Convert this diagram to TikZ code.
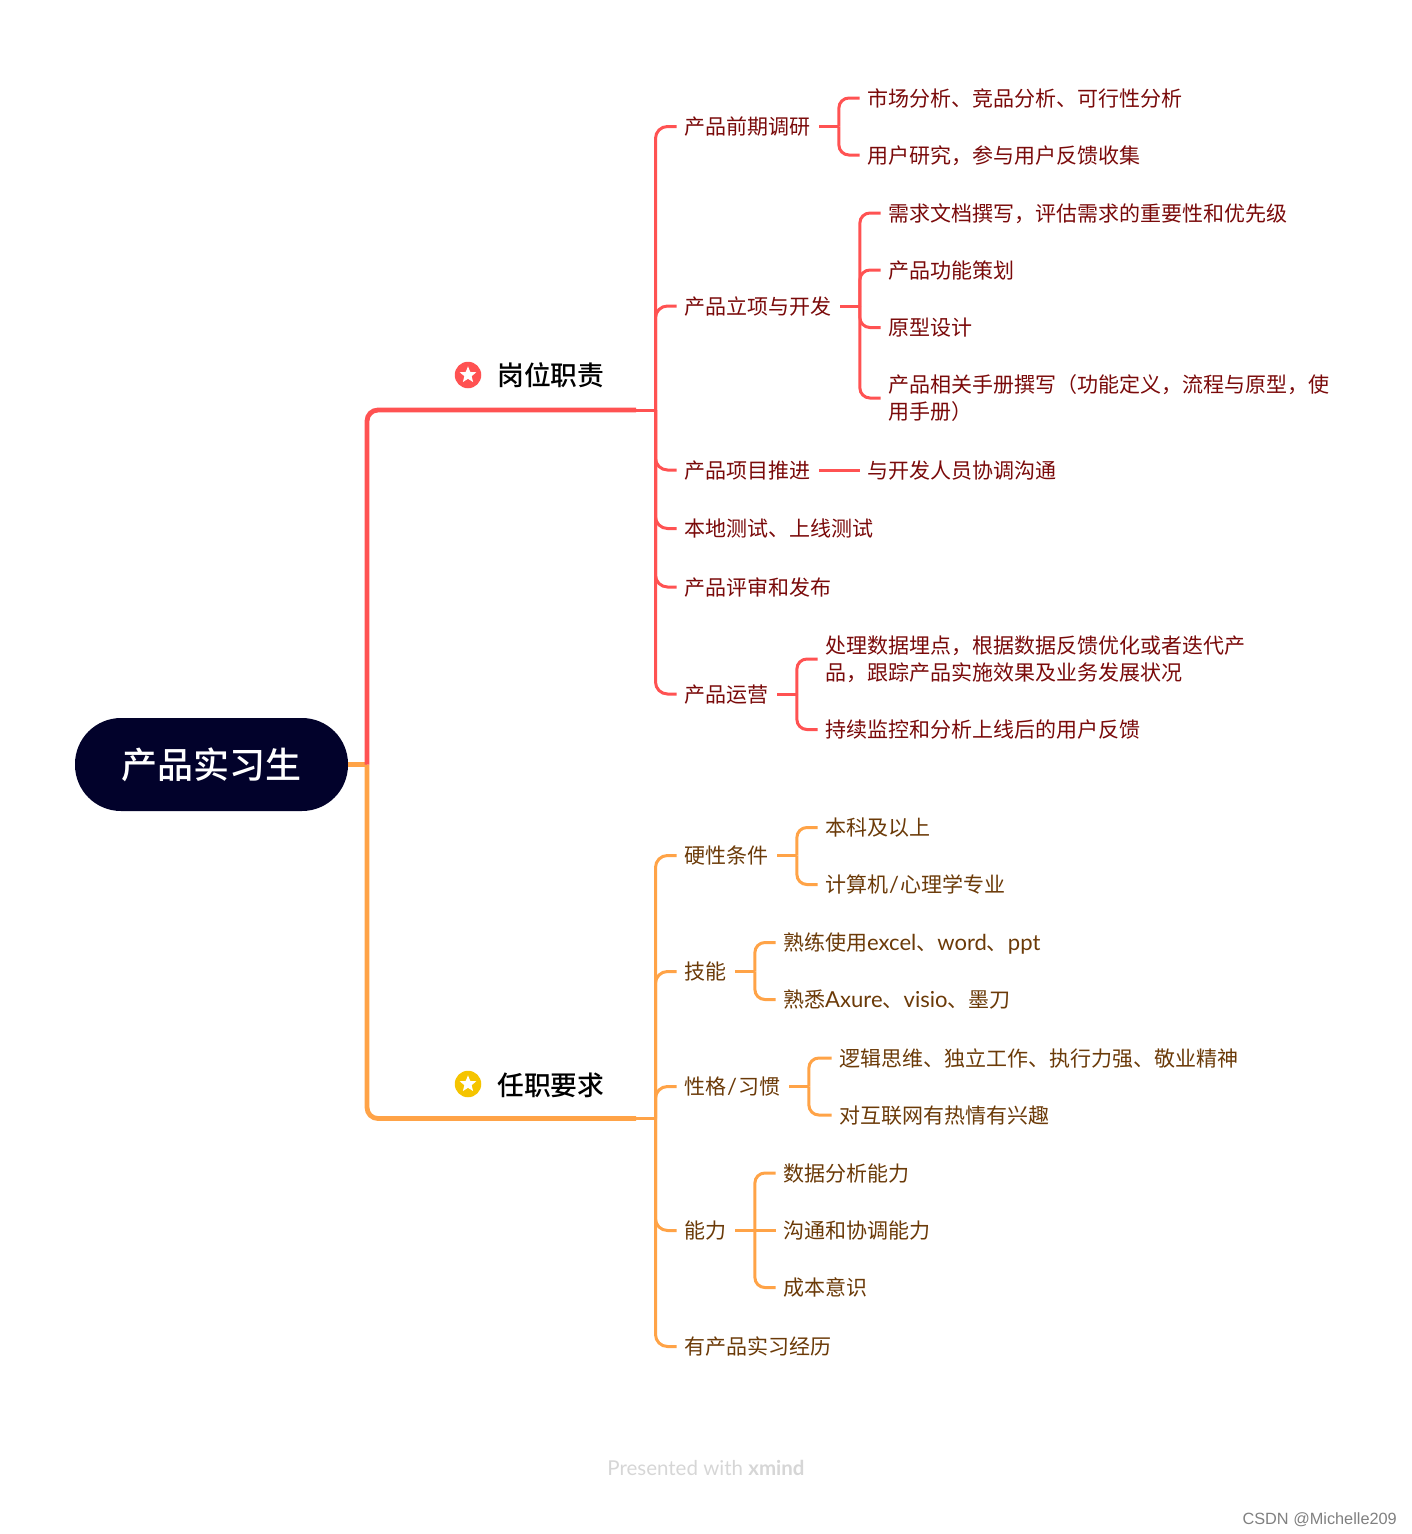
\documentclass[tikz,border=0pt]{standalone}
\usepackage{fontspec}
\usetikzlibrary{shapes.geometric}
\setmainfont{Noto Sans CJK SC}
\newfontfamily\medf{Noto Sans CJK SC Medium}
\newfontfamily\lat[Scale=1.05]{Lato}
\newfontfamily\foot{Lato}
\newfontfamily\arial{Liberation Sans}
\definecolor{redl}{HTML}{FF5252}
\definecolor{orgl}{HTML}{FFA347}
\definecolor{redt}{HTML}{7A0A0A}
\definecolor{orgt}{HTML}{6B3A08}
\definecolor{rootc}{HTML}{02022B}
\definecolor{yel}{HTML}{F5C400}
\tikzset{
  x=1pt,y=-1pt,
  topic/.style={anchor=west,inner xsep=7.5pt,inner ysep=0pt,font=\fontsize{21}{27}\selectfont,align=left},
  rt/.style={topic,text=redt},
  ot/.style={topic,text=orgt},
  one/.style={text height=16pt,text depth=0pt},
  mainl/.style={anchor=west,inner sep=0pt,font=\medf\fontsize{26.8}{32}\selectfont,text=black,text height=21pt,text depth=0pt},
  icon/.style={circle,minimum size=26.5pt,inner sep=0pt},
  stari/.style={star,star points=5,star point ratio=2.3,fill=white,minimum size=17.5pt,inner sep=0pt},
  thin/.style={line width=3pt,rounded corners=12pt},
  sub/.style={line width=3pt,rounded corners=10pt},
  thick/.style={line width=4.8pt,rounded corners=11pt},
  stub/.style={sub,shorten <=1.5pt},
}
\newcommand{\xl}[1]{{\lat #1}}
\newcommand{\slashx}{\kern1pt{\lat /}\kern1pt}
\begin{document}
\begin{tikzpicture}
\useasboundingbox (0,0) rectangle (1412,1534);
% root
\node[fill=rootc,rounded corners=46pt,minimum width=273pt,minimum height=93pt,inner sep=0pt,text=white,font=\medf\fontsize{36}{40}\selectfont] (root) at (211.5,764.5) {产品实习生};
% main topics
\node[mainl] (gw) at (497,375) {岗位职责};
\node[mainl] (rz) at (497,1085) {任职要求};
\node[icon,fill=redl] (gwi) at (468,375) {};
\node[stari] at (gwi) {};
\node[icon,fill=yel] (rzi) at (468,1084) {};
\node[stari] at (rzi) {};
% junctions
\coordinate (rj) at (367,764.5);
\coordinate (ra) at (636,410);
\coordinate (rb) at (655.5,410);
\coordinate (oa) at (636,1118.5);
\coordinate (ob) at (655.5,1118.5);
% level 2 red
\node[rt,one] (r1) at (676.5,126.5) {产品前期调研};
\node[rt,one] (r2) at (676.5,306) {产品立项与开发};
\node[rt,one] (r3) at (676.5,470) {产品项目推进};
\node[rt,one] (r4) at (676.5,528.5) {本地测试、上线测试};
\node[rt,one] (r5) at (676.5,587) {产品评审和发布};
\node[rt,one] (r6) at (676.5,694) {产品运营};
% level 3 red
\node[rt,one] (r11) at (859.5,98) {市场分析、竞品分析、可行性分析};
\node[rt,one] (r12) at (859.5,155) {用户研究，参与用户反馈收集};
\node[rt,one] (r21) at (880.5,213) {需求文档撰写，评估需求的重要性和优先级};
\node[rt,one] (r22) at (880.5,270) {产品功能策划};
\node[rt,one] (r23) at (880.5,327.5) {原型设计};
\node[rt] (r24) at (880.5,398) {产品相关手册撰写（功能定义，流程与原型，使\\用手册）};
\node[rt,one] (r31) at (859.5,470) {与开发人员协调沟通};
\node[rt] (r61) at (817.5,659) {处理数据埋点，根据数据反馈优化或者迭代产\\品，跟踪产品实施效果及业务发展状况};
\node[rt,one] (r62) at (817.5,729.5) {持续监控和分析上线后的用户反馈};
% level 2 orange
\node[ot,one] (o1) at (676.5,855.5) {硬性条件};
\node[ot,one] (o2) at (676.5,971.5) {技能};
\node[ot,one] (o3) at (676.5,1086.5) {性格\slashx 习惯};
\node[ot,one] (o4) at (676.5,1230.5) {能力};
\node[ot,one] (o5) at (676.5,1346.5) {有产品实习经历};
% level 3 orange
\node[ot,one] (o11) at (817.5,827.5) {本科及以上};
\node[ot,one] (o12) at (817.5,884.5) {计算机\slashx 心理学专业};
\node[ot,one] (o21) at (775.5,942.5) {熟练使用\xl{excel}、\xl{word}、\xl{ppt}};
\node[ot,one] (o22) at (775.5,999.5) {熟悉\xl{Axure}、\xl{visio}、墨刀};
\node[ot,one] (o31) at (831.5,1058) {逻辑思维、独立工作、执行力强、敬业精神};
\node[ot,one] (o32) at (831.5,1115) {对互联网有热情有兴趣};
\node[ot,one] (o41) at (775.5,1173) {数据分析能力};
\node[ot,one] (o42) at (775.5,1230.5) {沟通和协调能力};
\node[ot,one] (o43) at (775.5,1287.5) {成本意识};
% footer
\node[anchor=center,inner sep=0pt,text=black!16,font=\foot\fontsize{20.5}{24}\selectfont] (pw) at (706,1468) {Presented with \textbf{xmind}};
\node[anchor=east,inner sep=0pt,text=black!50,font=\arial\fontsize{16.3}{20}\selectfont] (cs) at (1397,1519.5) {CSDN @Michelle209};
% trunks
\draw[orgl,line width=4.8pt] (root.east) -- (rj);
\draw[orgl,thick] (rj) |- (oa);
\draw[orgl,thin,rounded corners=0pt] (oa) -- (ob);
\draw[redl,thick] (rj) |- (ra);
\draw[redl,thin,rounded corners=0pt] (ra) -- (rb);
% level 2 connectors
\foreach \c in {r1,r2,r3,r4,r5,r6} \draw[redl,thin] (rb) |- (\c.west);
\foreach \c in {o1,o2,o3,o4,o5} \draw[orgl,thin] (ob) |- (\c.west);
% level 3 connectors
\draw[redl,stub] (r1.east) -- ++(21,0) coordinate (j1);
\foreach \c in {r11,r12} \draw[redl,sub] (j1) |- (\c.west);
\draw[redl,stub] (r2.east) -- ++(21,0) coordinate (j2);
\foreach \c in {r21,r22,r23,r24} \draw[redl,sub] (j2) |- (\c.west);
\draw[redl,stub] (r3.east) -- (r31.west);
\draw[redl,stub] (r6.east) -- ++(21,0) coordinate (j6);
\foreach \c in {r61,r62} \draw[redl,sub] (j6) |- (\c.west);
\draw[orgl,stub] (o1.east) -- ++(21,0) coordinate (k1);
\foreach \c in {o11,o12} \draw[orgl,sub] (k1) |- (\c.west);
\draw[orgl,stub] (o2.east) -- ++(21,0) coordinate (k2);
\foreach \c in {o21,o22} \draw[orgl,sub] (k2) |- (\c.west);
\draw[orgl,stub] (o3.east) -- ++(21,0) coordinate (k3);
\foreach \c in {o31,o32} \draw[orgl,sub] (k3) |- (\c.west);
\path (o4.east) ++(21,0) coordinate (k4);
\draw[orgl,stub] (o4.east) -- (o42.west);
\foreach \c in {o41,o43} \draw[orgl,sub] (k4) |- (\c.west);
\end{tikzpicture}
\end{document}
